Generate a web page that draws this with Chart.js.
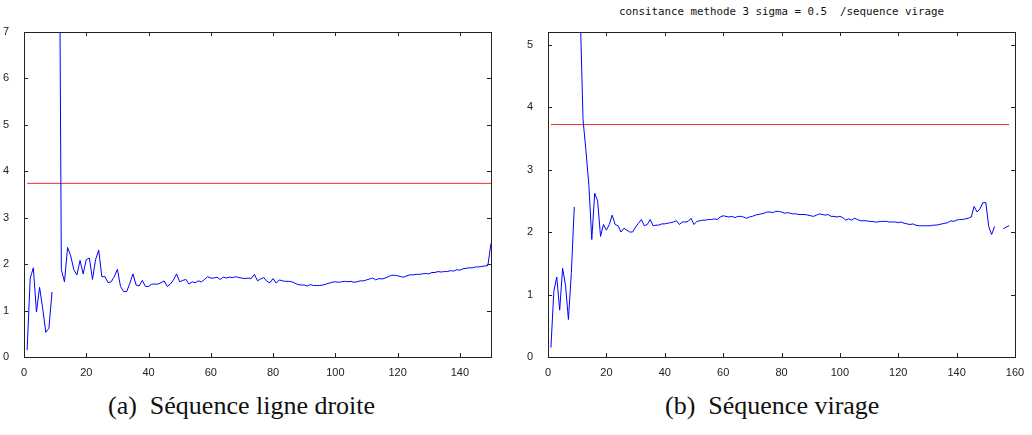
<!DOCTYPE html>
<html>
<head>
<meta charset="utf-8">
<script src="https://cdn.jsdelivr.net/npm/chart.js@4/dist/chart.umd.min.js"></script>
<style>
  body { margin: 0; background: #fff; width: 1032px; height: 435px; position: relative; overflow: hidden; }
  .box { position: absolute; top: 0; height: 385px; }
  #boxA { left: 0; width: 516px; }
  #boxB { left: 524px; width: 508px; }
  .caption { position: absolute; top: 391px; font-family: "Liberation Serif", "Times New Roman", "DejaVu Serif", serif; font-size: 26px; color: #111; white-space: pre; }
  .title { position: absolute; top: 5px; font-family: "DejaVu Sans Mono", monospace; font-size: 10.8px; color: #111; white-space: pre; }
</style>
</head>
<body>
<div class="title" style="left:619px">consitance methode 3 sigma = 0.5  /sequence virage</div>
<div class="box" id="boxA"><canvas id="chartA"></canvas></div>
<div class="box" id="boxB"><canvas id="chartB"></canvas></div>
<div class="caption" id="capA" style="left:108px">(a)  Séquence ligne droite</div>
<div class="caption" id="capB" style="left:665px">(b)  Séquence virage</div>

<script>
// (a) sequence ligne droite, one value per frame starting at 1 (null = no value)
const valuesA = [
  0.15, 1.7, 1.92, 0.97, 1.5, 1.05, 0.53, 0.62, 1.4, null,
  14, 1.88, 1.62, 2.36, 2.18, 1.88, 1.77, 2.08, 1.79, 2.1,
  2.13, 1.67, 2.1, 2.3, 1.73, 1.73, 1.6, 1.62, 1.73, 1.89,
  1.52, 1.41, 1.41, 1.59, 1.79, 1.55, 1.53, 1.65, 1.52, 1.52,
  1.57, 1.57, 1.57, 1.6, 1.64, 1.52, 1.57, 1.66, 1.79, 1.62,
  1.65, 1.67, 1.57, 1.62, 1.6, 1.64, 1.62, 1.67, 1.73, 1.7,
  1.7, 1.72, 1.67, 1.72, 1.7, 1.72, 1.71, 1.73, 1.71, 1.7,
  1.69, 1.7, 1.69, 1.78, 1.64, 1.68, 1.71, 1.63, 1.6, 1.69,
  1.59, 1.66, 1.64, 1.63, 1.63, 1.62, 1.59, 1.56, 1.55, 1.55,
  1.53, 1.56, 1.54, 1.54, 1.54, 1.55, 1.57, 1.59, 1.61, 1.62,
  1.61, 1.62, 1.63, 1.62, 1.63, 1.61, 1.62, 1.64, 1.64, 1.66,
  1.68, 1.7, 1.66, 1.69, 1.68, 1.7, 1.73, 1.76, 1.76, 1.75,
  1.73, 1.72, 1.75, 1.77, 1.77, 1.78, 1.78, 1.79, 1.8, 1.79,
  1.82, 1.82, 1.84, 1.83, 1.84, 1.84, 1.86, 1.85, 1.88, 1.87,
  1.9, 1.91, 1.92, 1.92, 1.94, 1.94, 1.95, 1.96, 1.97, 2.45
];
const thresholdA = 3.74;

// (b) sequence virage
const valuesB = [
  0.15, 1.05, 1.28, 0.75, 1.42, 1.15, 0.6, 1.35, 2.4, null,
  5.6, 3.8, 3.3, 2.75, 1.88, 2.62, 2.5, 1.93, 2.12, 2.03,
  2.12, 2.27, 2.12, 2.1, 2.0, 2.06, 2.03, 2.0, 2.0, 2.08,
  2.14, 2.2, 2.1, 2.12, 2.2, 2.1, 2.11, 2.11, 2.13, 2.13,
  2.14, 2.15, 2.16, 2.18, 2.12, 2.16, 2.16, 2.17, 2.22, 2.12,
  2.17, 2.18, 2.19, 2.19, 2.2, 2.2, 2.21, 2.2, 2.24, 2.26,
  2.25, 2.24, 2.25, 2.23, 2.25, 2.25, 2.24, 2.22, 2.24, 2.25,
  2.27, 2.28, 2.29, 2.3, 2.32, 2.32, 2.31, 2.33, 2.33, 2.32,
  2.3, 2.31, 2.3, 2.29, 2.29, 2.28, 2.28, 2.28, 2.27, 2.26,
  2.25, 2.27, 2.29, 2.28, 2.27, 2.28, 2.25, 2.25, 2.24, 2.25,
  2.23, 2.19, 2.21, 2.19, 2.22, 2.2, 2.18, 2.18, 2.18, 2.17,
  2.17, 2.16, 2.16, 2.17, 2.17, 2.17, 2.16, 2.16, 2.16, 2.15,
  2.16, 2.14, 2.13, 2.12, 2.13, 2.11, 2.1, 2.1, 2.1, 2.1,
  2.1, 2.11, 2.11, 2.12, 2.13, 2.14, 2.15, 2.18, 2.17, 2.19,
  2.2, 2.2, 2.21, 2.22, 2.24, 2.41, 2.32, 2.37, 2.47, 2.47,
  2.09, 1.96, 2.09, null, null, 2.05, 2.08, 2.1
];
const thresholdB = 3.72;

const xMaxA = 150, yMaxA = 7;
const xMaxB = 160, yMaxB = 5.2;
const xStep = 20, yStep = 1;

const tickFont = { family: "Liberation Sans", size: 11 };

// gnuplot style frame with inward ticks on all four sides
const framePlugin = {
  id: "frame",
  afterDraw(chart) {
    const { ctx, chartArea: a, scales } = chart;
    const len = 4;
    ctx.save();
    ctx.strokeStyle = "#222";
    ctx.lineWidth = 1;
    ctx.strokeRect(Math.round(a.left) + 0.5, Math.round(a.top) + 0.5,
      Math.round(a.right - a.left), Math.round(a.bottom - a.top));
    ctx.beginPath();
    scales.x.ticks.forEach((t) => {
      const px = Math.round(scales.x.getPixelForValue(t.value)) + 0.5;
      ctx.moveTo(px, a.bottom); ctx.lineTo(px, a.bottom - len);
      ctx.moveTo(px, a.top); ctx.lineTo(px, a.top + len);
    });
    scales.y.ticks.forEach((t) => {
      const py = Math.round(scales.y.getPixelForValue(t.value)) + 0.5;
      ctx.moveTo(a.left, py); ctx.lineTo(a.left + len, py);
      ctx.moveTo(a.right, py); ctx.lineTo(a.right - len, py);
    });
    ctx.stroke();
    ctx.restore();
  },
};

function makeChart(id, values, threshold, xMax, yMax, yWidth, rightPad) {
  const points = values.map((v, i) => ({ x: i + 1, y: v }));
  const limit = [
    { x: 1, y: threshold },
    { x: values.length, y: threshold },
  ];
  return new Chart(document.getElementById(id), {
    type: "line",
    data: {
      datasets: [
        {
          data: points,
          borderColor: "#0000ff",
          borderWidth: 1,
          pointRadius: 0,
          spanGaps: false,
          tension: 0,
        },
        {
          data: limit,
          borderColor: "#ee3030",
          borderWidth: 1,
          pointRadius: 0,
        },
      ],
    },
    options: {
      responsive: true,
      maintainAspectRatio: false,
      animation: false,
      events: [],
      layout: { padding: { top: 32, right: rightPad, bottom: 8, left: 0 } },
      plugins: { legend: { display: false }, tooltip: { enabled: false } },
      scales: {
        x: {
          type: "linear",
          min: 0,
          max: xMax,
          grid: { display: false },
          border: { display: false },
          ticks: {
            stepSize: xStep,
            includeBounds: false,
            maxRotation: 0,
            padding: 1,
            color: "#222",
            font: tickFont,
          },
          afterFit(scale) { scale.height = 20; },
        },
        y: {
          min: 0,
          max: yMax,
          grid: { display: false },
          border: { display: false },
          ticks: {
            stepSize: yStep,
            includeBounds: false,
            padding: 7,
            color: "#222",
            font: tickFont,
          },
          afterFit(scale) { scale.width = yWidth; },
        },
      },
    },
    plugins: [framePlugin],
  });
}

makeChart("chartA", valuesA, thresholdA, xMaxA, yMaxA, 24, 25);
makeChart("chartB", valuesB, thresholdB, xMaxB, yMaxB, 24, 17);
</script>
</body>
</html>
